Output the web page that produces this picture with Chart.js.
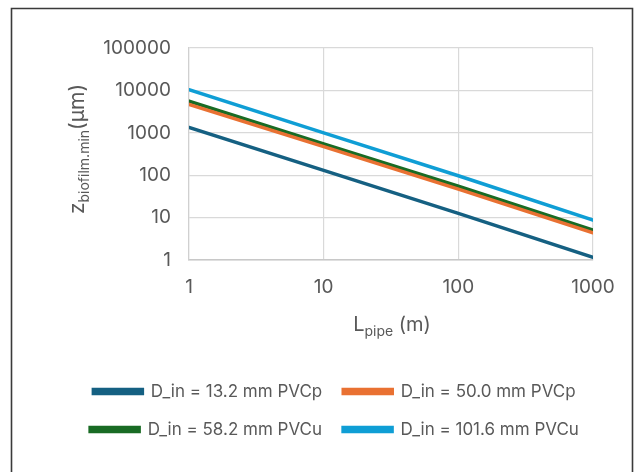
<!DOCTYPE html>
<html>
<head>
<meta charset="utf-8">
<script src="https://cdn.jsdelivr.net/npm/chart.js@4.4.1/dist/chart.umd.min.js"></script>
<style>
html,body{margin:0;padding:0;background:#fff;}
#wrap{position:relative;width:636px;height:472px;}
canvas{display:block;}
</style>
</head>
<body>
<div id="wrap"><canvas id="c" width="636" height="472"></canvas></div>
<script>
// ---- data ----
const lengths = [1, 10, 100, 1000];
const seriesLabels = [
  'D_in = 13.2 mm PVCp',
  'D_in = 50.0 mm PVCp',
  'D_in = 58.2 mm PVCu',
  'D_in = 101.6 mm PVCu'
];
const d132 = [1340, 130, 12.6, 1.15];
const d500 = [4700, 470, 47, 4.4];
const d582 = [5600, 550, 55, 5.1];
const d1016 = [10400, 1000, 97, 8.7];
const xTicks = [1, 10, 100, 1000];
const yTicks = [1, 10, 100, 1000, 10000, 100000];
const colors = ['#156082', '#E97132', '#196B24', '#0F9ED5'];

const FONT = 'Inter, "Open Sans", "DejaVu Sans", sans-serif';
const TXT = '#595959';

function pts(vals){ return lengths.map((x,i)=>({x:x, y:vals[i]})); }
const allSeries = [d132, d500, d582, d1016];

const datasets = allSeries.map((v,i)=>({
  label: seriesLabels[i],
  data: pts(v),
  borderColor: colors[i],
  backgroundColor: colors[i],
  borderWidth: 3.5,
  pointRadius: 0,
  borderCapStyle: 'round',
  tension: 0
}));

const frame = {
  id: 'frame',
  afterLayout(chart){
    const lg = chart.legend;
    if (lg) { lg.left += 10; lg.right += 10; }
  },
  beforeDraw(chart){
    const ctx = chart.ctx;
    ctx.save();
    ctx.fillStyle = '#fff';
    ctx.fillRect(0,0,chart.width,chart.height);
    ctx.strokeStyle = '#3a3a3a';
    ctx.lineWidth = 1.6;
    ctx.beginPath();
    ctx.moveTo(11.5, 480);
    ctx.lineTo(11.5, 8.5);
    ctx.lineTo(632.5, 8.5);
    ctx.lineTo(632.5, 480);
    ctx.stroke();
    ctx.restore();
  }
};

const titles = {
  id: 'titles',
  afterDraw(chart){
    const ctx = chart.ctx;
    const a = chart.chartArea;
    ctx.save();
    ctx.fillStyle = TXT;
    ctx.textBaseline = 'alphabetic';
    // x title: L_pipe (m)
    const big = '20px ' + FONT, small = '14px ' + FONT;
    ctx.font = big; const wL = ctx.measureText('L').width;
    ctx.font = small; const wP = ctx.measureText('pipe').width;
    ctx.font = big; const wM = ctx.measureText(' (m)').width;
    let x = (a.left + a.right)/2 - (wL+wP+wM)/2 + 1;
    const yb = 331;
    ctx.font = big; ctx.fillText('L', x, yb); x += wL;
    ctx.font = small; ctx.fillText('pipe', x, yb+5); x += wP;
    ctx.font = big; ctx.fillText(' (m)', x, yb);
    // y title: z_biofilm.min (μm)
    const yBig = '21px ' + FONT, ySmall = '14px ' + FONT;
    ctx.font = yBig; const wz = ctx.measureText('z').width;
    ctx.font = ySmall; const ws = ctx.measureText('biofilm.min').width;
    ctx.font = yBig; const wu = ctx.measureText('(μm)').width;
    ctx.translate(84, (a.top + a.bottom)/2 - 5);
    ctx.rotate(-Math.PI/2);
    let t = -(wz+ws+wu)/2;
    ctx.font = yBig; ctx.fillText('z', t, 0); t += wz;
    ctx.font = ySmall; ctx.fillText('biofilm.min', t, 5); t += ws;
    ctx.font = yBig; ctx.fillText('(μm)', t, 0);
    ctx.restore();
  }
};

new Chart(document.getElementById('c'), {
  type: 'line',
  data: { datasets },
  plugins: [frame, titles],
  options: {
    responsive: false,
    animation: false,
    devicePixelRatio: 1,
    layout: { padding: { left: 56, right: 43, top: 48, bottom: 24 } },
    plugins: {
      tooltip: { enabled: false },
      title: { display: false },
      legend: {
        position: 'bottom',
        labels: {
          boxWidth: 49,
          boxHeight: 4,
          padding: 21,
          color: TXT,
          font: { family: FONT, size: 17 }
        }
      }
    },
    scales: {
      x: {
        type: 'logarithmic',
        min: 1, max: 1000,
        afterBuildTicks(s){ s.ticks = xTicks.map(v=>({value:v})); },
        afterFit(s){ s.height = 102; },
        ticks: {
          color: TXT, font: { family: FONT, size: 19 }, padding: 16,
          maxRotation: 0, autoSkip: false,
          callback: (v)=> String(v)
        },
        grid: { color: '#d9d9d9', lineWidth: 1.2, drawTicks: false },
        border: { color: '#c8c8c8', width: 1.6 }
      },
      y: {
        type: 'logarithmic',
        min: 1, max: 100000,
        afterBuildTicks(s){ s.ticks = yTicks.map(v=>({value:v})); },
        afterFit(s){ s.width = 133; },
        ticks: {
          color: TXT, font: { family: FONT, size: 19 }, padding: 18,
          autoSkip: false,
          callback: (v)=> String(v)
        },
        grid: { color: '#d9d9d9', lineWidth: 1.2, drawTicks: false },
        border: { color: '#d0d0d0', width: 1.2 }
      }
    }
  }
});
</script>
</body>
</html>
